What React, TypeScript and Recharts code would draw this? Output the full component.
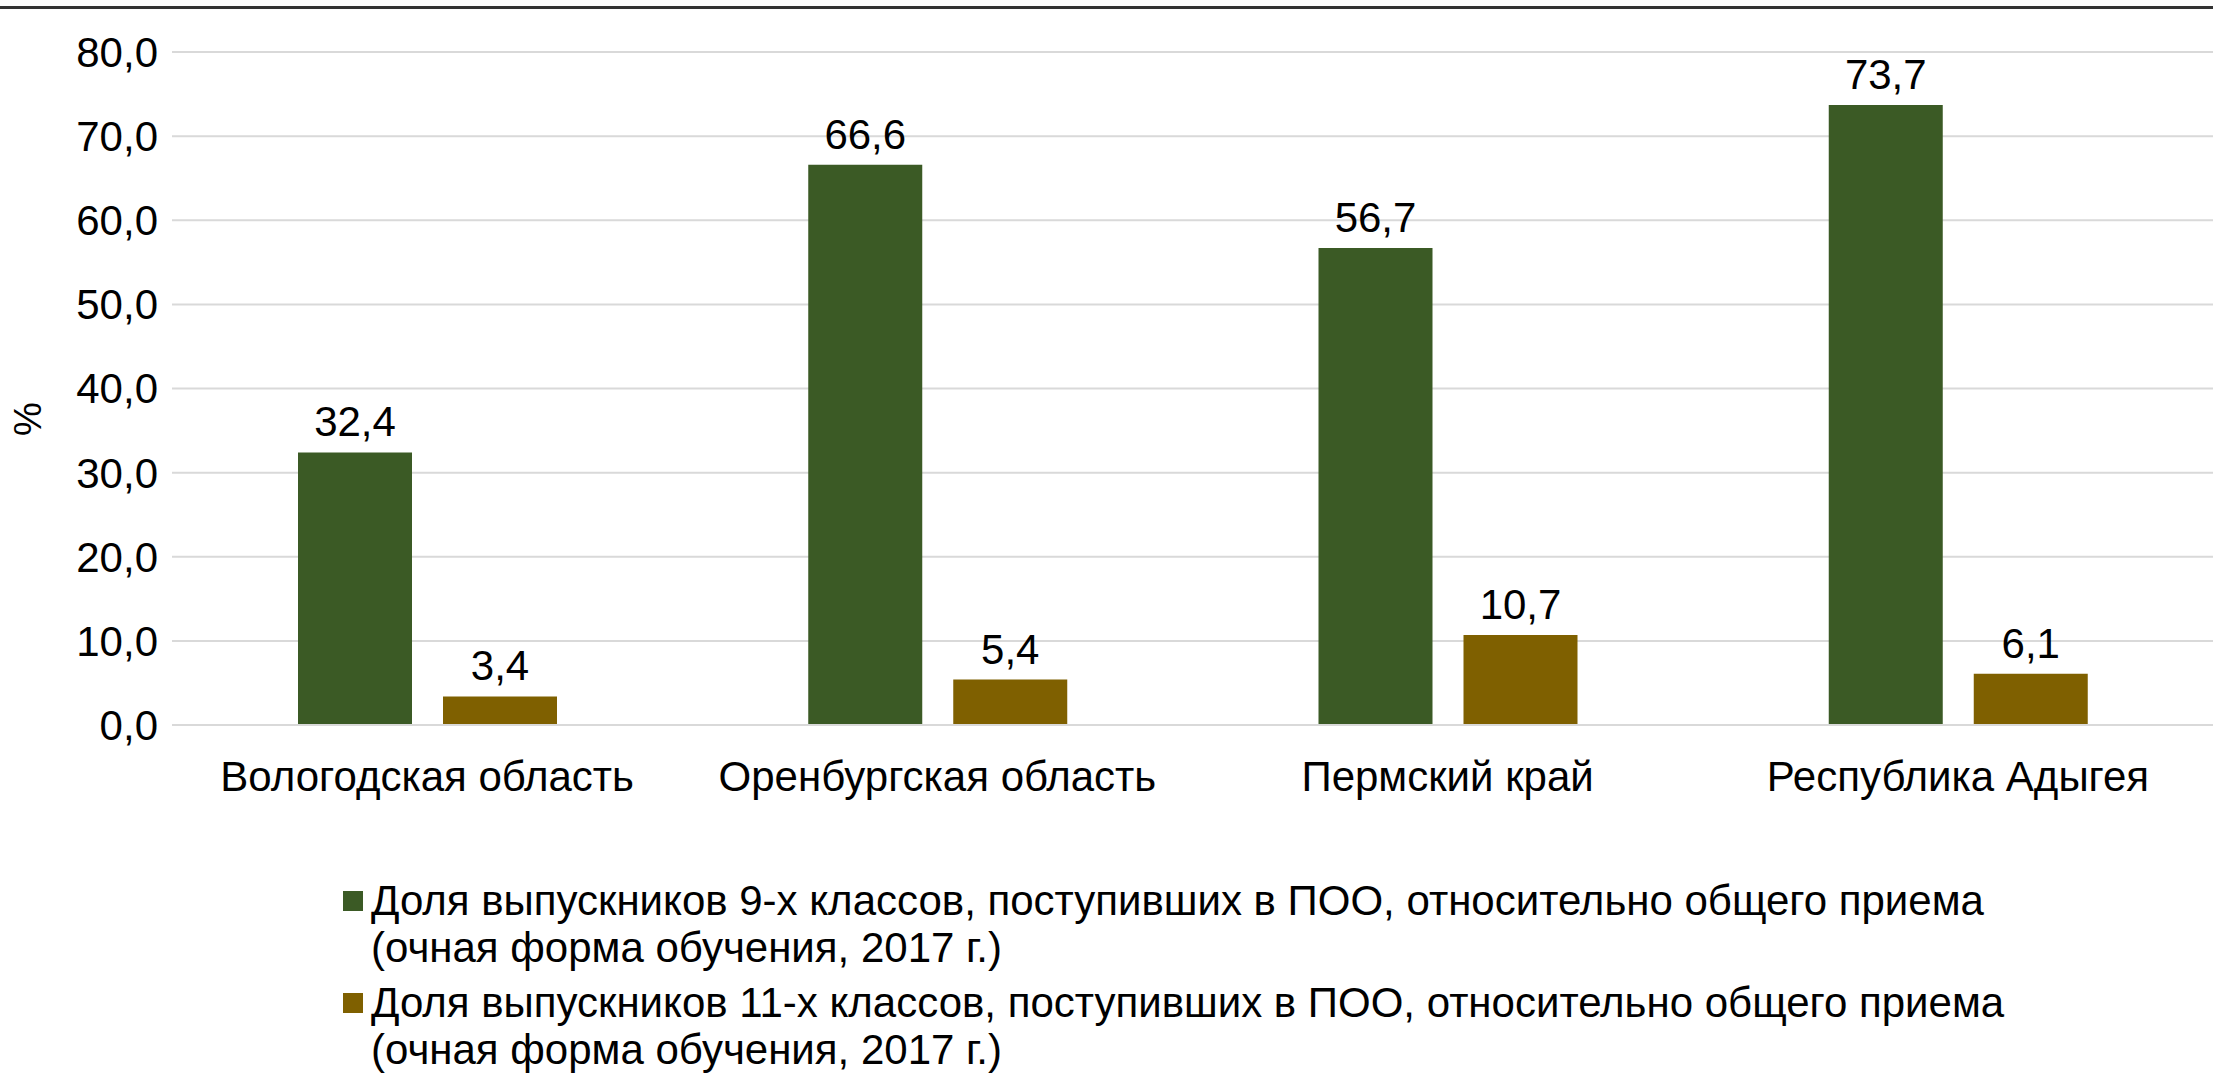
import React from 'react';
import { BarChart, Bar, XAxis, YAxis, CartesianGrid, Legend, LabelList } from 'recharts';

const regions = ['Вологодская область', 'Оренбургская область', 'Пермский край', 'Республика Адыгея'];
const grade9 = [32.4, 66.6, 56.7, 73.7];
const grade11 = [3.4, 5.4, 10.7, 6.1];
const yTicks = [0, 10, 20, 30, 40, 50, 60, 70, 80];

const seriesNames = [
    ['Доля выпускников 9-х классов, поступивших в ПОО, относительно общего приема', '(очная форма обучения, 2017 г.)'],
    ['Доля выпускников 11-х классов, поступивших в ПОО, относительно общего приема', '(очная форма обучения, 2017 г.)'],
];
const colors = ['#3B5A25', '#7F6000'];

const data = regions.map((name, i) => ({ name, g9: grade9[i], g11: grade11[i] }));

const FONT = '"Liberation Sans", Arial, sans-serif';
const FS = 42;
const fmt = (v: number) => v.toFixed(1).replace('.', ',');

const LegendBox: React.FC = () => (
    <div style={{ height: 213, paddingLeft: 343, paddingTop: 17, boxSizing: 'border-box', fontFamily: FONT, fontSize: FS, color: '#000', lineHeight: '47px' }}>
        {seriesNames.map((lines, i) => (
            <div key={i} style={{ display: 'flex', alignItems: 'flex-start', marginBottom: 8 }}>
                <div style={{ width: 20, height: 20, background: colors[i], marginTop: 14, marginRight: 8, flex: 'none' }} />
                <div>
                    {lines.map((l, j) => (
                        <div key={j}>{l}</div>
                    ))}
                </div>
            </div>
        ))}
    </div>
);

const App: React.FC = () => {
    return (
        <div style={{ position: 'absolute', left: 0, top: 0, width: 2213, height: 1073, background: '#fff' }}>
            <div style={{ position: 'absolute', left: 0, top: 6, width: 2213, height: 0, borderTop: '3px solid #333' }} />
            <BarChart
                width={2213}
                height={1073}
                data={data}
                margin={{ top: 52, right: 0, left: 0, bottom: 0 }}
                barCategoryGap={126}
                barGap={31}
                style={{ fontFamily: FONT }}
            >
                <CartesianGrid vertical={false} stroke="#D9D9D9" strokeWidth={2} />
                <XAxis
                    dataKey="name"
                    height={135}
                    axisLine={{ stroke: '#D9D9D9', strokeWidth: 2 }}
                    tickLine={false}
                    tickSize={0}
                    tickMargin={36}
                    tick={{ fill: '#000', fontSize: FS, fontFamily: FONT }}
                />
                <YAxis
                    width={172}
                    domain={[0, 80]}
                    ticks={yTicks}
                    tickFormatter={fmt}
                    axisLine={false}
                    tickLine={false}
                    tickSize={0}
                    tickMargin={14}
                    tick={{ fill: '#000', fontSize: FS, fontFamily: FONT }}
                    label={() => (
                        <text x={28} y={419} transform="rotate(-90 28 419)" textAnchor="middle" dominantBaseline="central" fontSize={38} fontFamily={FONT} fill="#000">
                            %
                        </text>
                    )}
                />
                <Legend verticalAlign="bottom" content={() => <LegendBox />} />
                <Bar dataKey="g9" name={seriesNames[0].join(' ')} fill={colors[0]} isAnimationActive={false}>
                    <LabelList dataKey="g9" position="top" offset={16} formatter={(v: any) => fmt(Number(v))} style={{ fill: '#000', fontSize: FS, fontFamily: FONT }} />
                </Bar>
                <Bar dataKey="g11" name={seriesNames[1].join(' ')} fill={colors[1]} isAnimationActive={false}>
                    <LabelList dataKey="g11" position="top" offset={16} formatter={(v: any) => fmt(Number(v))} style={{ fill: '#000', fontSize: FS, fontFamily: FONT }} />
                </Bar>
            </BarChart>
        </div>
    );
};

export default App;
